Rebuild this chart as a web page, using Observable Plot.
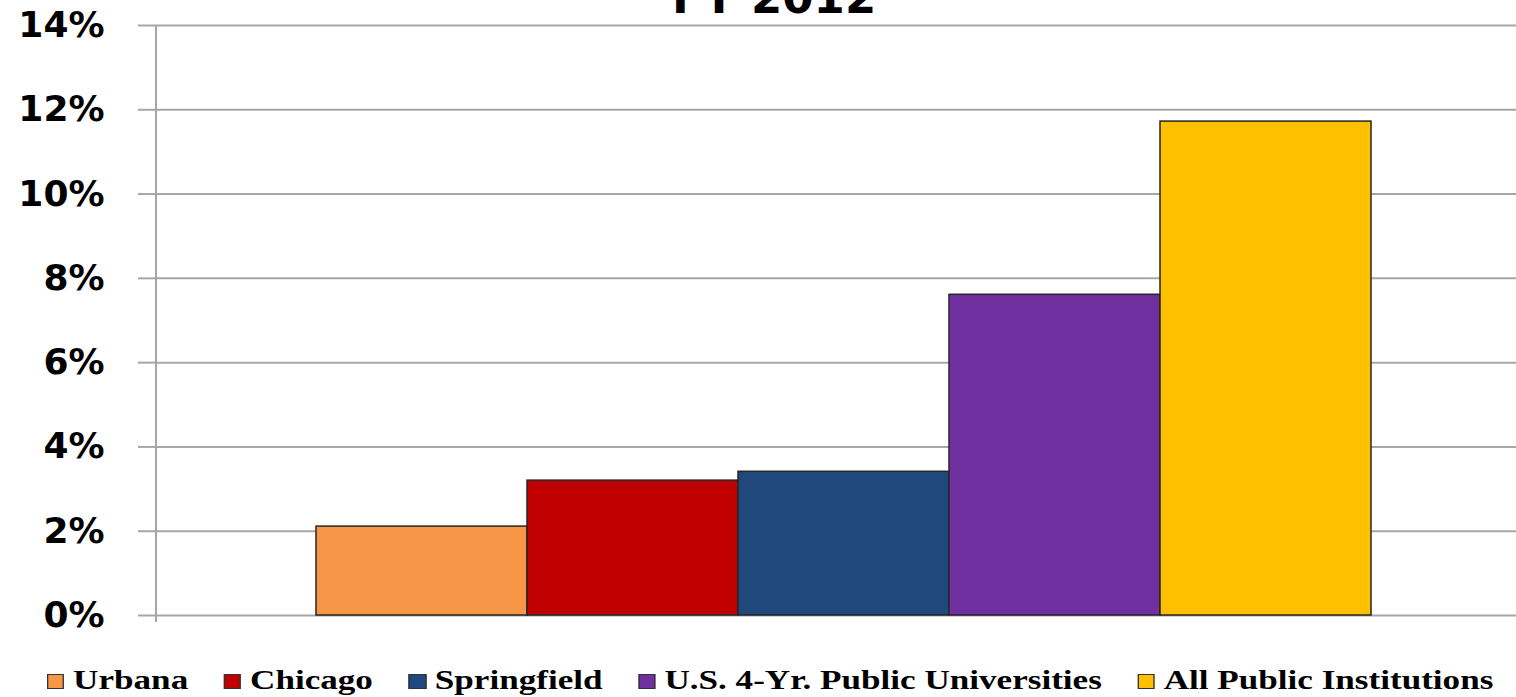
<!DOCTYPE html>
<html><head><meta charset="utf-8">
<script src="https://cdn.jsdelivr.net/npm/d3@7"></script>
<script src="https://cdn.jsdelivr.net/npm/@observablehq/plot@0.6"></script>
<style>
html,body{margin:0;padding:0;background:#fff;overflow:hidden;}
#wrap{position:relative;width:1516px;height:697px;overflow:hidden;}
#chart{position:absolute;left:0;top:0;}
#title{position:absolute;top:-25px;left:672px;font-family:"DejaVu Sans";font-weight:bold;font-size:45px;line-height:1;white-space:nowrap;color:#000;}
#legend{position:absolute;left:47px;top:666.5px;display:flex;align-items:center;transform:scaleX(1.30);transform-origin:0 0;font-family:"Liberation Serif";font-weight:bold;font-size:27px;line-height:1;color:#000;white-space:nowrap;}
.item{display:flex;align-items:center;margin-right:27.5px;}
.sw{width:11.3px;height:12.4px;border:1.3px solid #333;margin-right:6.8px;margin-top:3px;}
</style></head>
<body><div id="wrap"><div id="chart"></div><div id="title">FY 2012</div><div id="legend"></div></div>
<script>
const names = ["Urbana", "Chicago", "Springfield", "U.S. 4-Yr. Public Universities", "All Public Institutions"];
const values = [2.11, 3.20, 3.41, 7.61, 11.72];
const colors = ["#F79646", "#C00000", "#1F497D", "#7030A0", "#FFC000"];
const yTicks = [0, 2, 4, 6, 8, 10, 12, 14];

const data = names.map((n, i) => ({name: n, value: values[i]}));
const grid = "#a6a6a6";

const axisLine = (index, scales, vals, dims) => {
  const l = d3.create("svg:line")
    .attr("x1", dims.marginLeft).attr("x2", dims.marginLeft)
    .attr("y1", scales.y(d3.max(yTicks))).attr("y2", scales.y(0) + 7)
    .attr("stroke", grid).attr("stroke-width", 2);
  return l.node();
};

const chart = Plot.plot({
  width: 1516,
  height: 640,
  marginLeft: 156,
  marginRight: 0,
  marginTop: 25,
  marginBottom: 25,
  style: {fontFamily: "DejaVu Sans", background: "white", overflow: "visible"},
  x: {domain: names, range: [315, 1372], padding: 0, axis: null},
  y: {domain: [0, 14], label: null},
  color: {domain: names, range: colors},
  marks: [
    Plot.ruleY(yTicks, {stroke: grid, strokeWidth: 2}),
    Plot.axisY({ticks: yTicks, tickSize: 18, stroke: grid, strokeWidth: 2, tickFormat: () => "", label: null}),
    Plot.axisY({ticks: yTicks, tickSize: 0, tickPadding: 52, tickFormat: d => d + "%", fontSize: 36, fontWeight: "bold", fontFamily: "DejaVu Sans", fill: "black", label: null}),
    axisLine,
    Plot.barY(data, {x: "name", y: "value", fill: "name", stroke: "#262626", strokeWidth: 1.5})
  ]
});
document.getElementById("chart").appendChild(chart);

const legend = d3.select("#legend");
names.forEach((n, i) => {
  const it = legend.append("div").attr("class", "item");
  it.append("div").attr("class", "sw").style("background", colors[i]);
  it.append("span").text(n);
});
</script></body></html>
